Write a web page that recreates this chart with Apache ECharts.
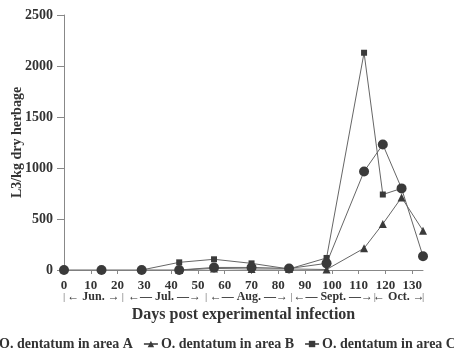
<!DOCTYPE html>
<html>
<head>
<meta charset="utf-8">
<script src="https://cdn.jsdelivr.net/npm/echarts@6/dist/echarts.min.js"></script>
<style>
html,body{margin:0;padding:0;background:#fff;}
#main{width:454px;height:349px;}
</style>
</head>
<body>
<div id="main"></div>
<script>
// days post infection
var days = [0, 14, 29, 43, 56, 70, 84, 98, 112, 119, 126, 134];
var areaA = [0, 0, 0, 0, 25, 25, 15, 65, 966, 1230, 800, 135];
var areaB = [null, null, null, 0, 15, 10, 10, 5, 213, 452, 711, 386];
var areaC = [null, null, 0, 75, 105, 65, 10, 118, 2130, 740, 800, null];
var seriesNames = ['O. dentatum in area A', 'O. dentatum in area B', 'O. dentatum in area C'];
// month bands along the x axis (in days)
var monthNames = ['Jun.', 'Jul.', 'Aug.', 'Sept.', 'Oct.'];
var monthBounds = [0, 22, 53, 85, 116, 134];

var chart = echarts.init(document.getElementById('main'));
var font = '"Liberation Serif", "Times New Roman", serif';

function pairs(vals) {
    var out = [];
    for (var i = 0; i < days.length; i++) {
        if (vals[i] !== null) out.push([days[i], vals[i]]);
    }
    return out;
}

function lineSeries(name, vals, symbol, size) {
    return {
        name: name,
        type: 'line',
        data: pairs(vals),
        symbol: symbol,
        symbolSize: size,
        lineStyle: { color: '#666', width: 1 },
        itemStyle: { color: '#3a3a3a' },
        animation: false
    };
}

var option = {
    backgroundColor: '#fff',
    textStyle: { fontFamily: font },
    grid: { left: 64, right: 31, top: 15, bottom: 79, containLabel: false, outerBoundsMode: 'none' },
    legend: {
        left: -24,
        top: 332,
        width: 640,
        itemWidth: 14,
        itemHeight: 8,
        itemGap: 10,
        textStyle: { fontFamily: font, fontWeight: 'bold', fontSize: 14, color: '#333', padding: [0, 0, 0, -2] },
        data: seriesNames
    },
    xAxis: {
        type: 'value',
        min: 0,
        max: 134,
        interval: 10,
        name: 'Days post experimental infection',
        nameLocation: 'middle',
        nameGap: 37,
        nameMoveOverlap: false,
        nameTextStyle: { fontFamily: font, fontWeight: 'bold', fontSize: 16, color: '#333' },
        splitLine: { show: false },
        axisLine: { lineStyle: { color: '#888' } },
        axisTick: { length: 4, lineStyle: { color: '#888' } },
        axisLabel: {
            showMaxLabel: false,
            margin: 9,
            fontFamily: font, fontWeight: 'bold', fontSize: 13, color: '#333'
        }
    },
    yAxis: {
        type: 'value',
        min: 0,
        max: 2500,
        interval: 500,
        name: 'L3/kg dry herbage',
        nameLocation: 'middle',
        nameGap: 40,
        nameMoveOverlap: false,
        nameTextStyle: { fontFamily: font, fontWeight: 'bold', fontSize: 14, color: '#333' },
        splitLine: { show: false },
        axisLine: { show: true, lineStyle: { color: '#888' } },
        axisTick: { show: true, length: 7, lineStyle: { color: '#888' } },
        axisLabel: {
            margin: 11,
            formatter: function (v) { return String(v); },
            fontFamily: font, fontWeight: 'bold', fontSize: 14, color: '#333'
        }
    },
    series: [
        lineSeries(seriesNames[0], areaA, 'circle', 10),
        lineSeries(seriesNames[1], areaB, 'triangle', 8),
        lineSeries(seriesNames[2], areaC, 'rect', 6)
    ]
};
chart.setOption(option);

// month row under the tick labels
var monthY = 297;
var graphics = [];
for (var i = 0; i < monthBounds.length; i++) {
    var bx = chart.convertToPixel({ xAxisIndex: 0 }, monthBounds[i]);
    graphics.push({
        type: 'text', x: bx, y: monthY,
        style: { text: '|', fontFamily: font, fontSize: 11, fill: '#666', align: 'center', verticalAlign: 'middle' }
    });
}
for (var m = 0; m < monthNames.length; m++) {
    var cx = chart.convertToPixel({ xAxisIndex: 0 }, (monthBounds[m] + monthBounds[m + 1]) / 2);
    var arrowL = m === 0 || m === 4 ? '\u2190 ' : '\u2190\u2014 ';
    var arrowR = m === 0 || m === 4 ? ' \u2192' : ' \u2014\u2192';
    graphics.push({
        type: 'text', x: cx, y: monthY,
        style: {
            text: arrowL + monthNames[m] + arrowR,
            fontFamily: font, fontWeight: 'bold', fontSize: 12, fill: '#333',
            align: 'center', verticalAlign: 'middle'
        }
    });
}
chart.setOption({ graphic: graphics });
</script>
</body>
</html>
